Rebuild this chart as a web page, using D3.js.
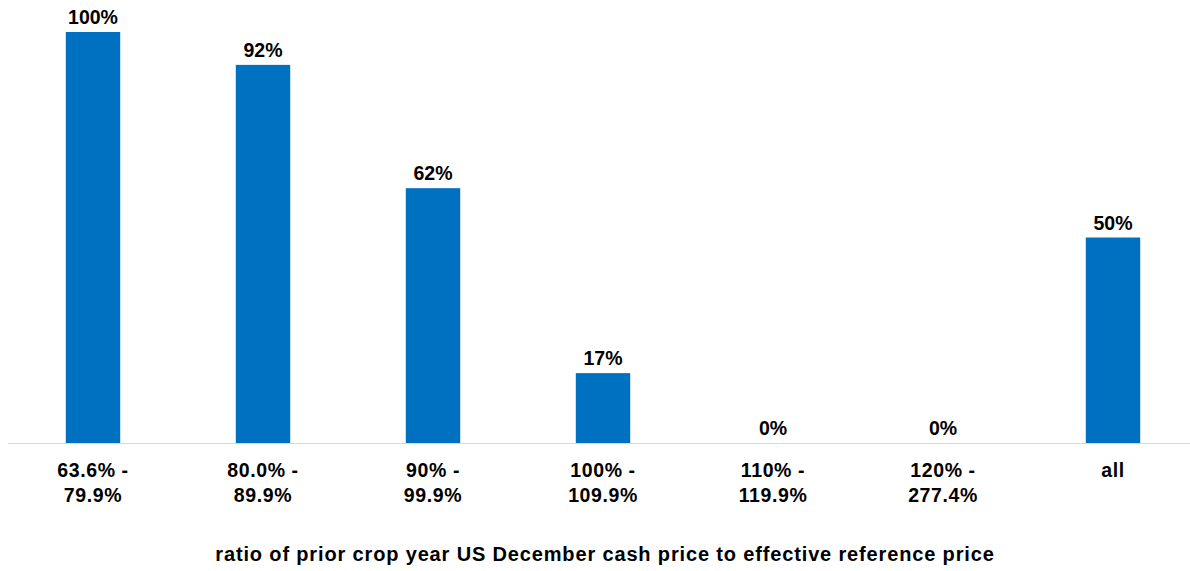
<!DOCTYPE html>
<html><head><meta charset="utf-8">
<script src="https://cdn.jsdelivr.net/npm/d3@7/dist/d3.min.js"></script>
<style>body{margin:0;background:#fff}svg{display:block}text{font-family:"Liberation Sans",Arial,sans-serif;font-weight:bold;fill:#000}</style>
</head><body><svg id="c" width="1190" height="571"></svg>
<script>
const categories = ["63.6% -|79.9%", "80.0% -|89.9%", "90% -|99.9%", "100% -|109.9%", "110% -|119.9%", "120% -|277.4%", "all"];
const values = [100, 92, 62, 17, 0, 0, 50];
const valueLabels = ["100%", "92%", "62%", "17%", "0%", "0%", "50%"];
const axisTitle = "ratio of prior crop year US December cash price to effective reference price";

const svg = d3.select("#c");
const baseY = 443, topY = 32;
const x = d3.scaleBand().domain(categories).range([8, 1198]).paddingInner(0.68).paddingOuter(0.34);
const y = d3.scaleLinear().domain([0, 100]).range([baseY, topY]);

svg.append("line").attr("x1", 8).attr("x2", 1190).attr("y1", baseY + 0.5).attr("y2", baseY + 0.5)
  .attr("stroke", "#d9d9d9").attr("stroke-width", 1.2);

svg.selectAll("rect.bar").data(values).join("rect").attr("class", "bar")
  .attr("x", (d, i) => x(categories[i]))
  .attr("width", x.bandwidth())
  .attr("y", d => y(d))
  .attr("height", d => baseY - y(d))
  .attr("fill", "#0070C0");

svg.selectAll("text.val").data(values).join("text").attr("class", "val")
  .attr("x", (d, i) => x(categories[i]) + x.bandwidth() / 2)
  .attr("y", d => y(d) - 8)
  .attr("text-anchor", "middle").attr("font-size", 19.5)
  .text((d, i) => valueLabels[i]);

const ticks = svg.selectAll("g.tick").data(categories).join("g").attr("class", "tick")
  .attr("transform", d => `translate(${x(d) + x.bandwidth() / 2},0)`);
ticks.each(function (d) {
  const lines = d.split("|");
  const g = d3.select(this);
  lines.forEach((l, j) => {
    g.append("text").attr("x", 0).attr("y", 477 + j * 24.5)
      .attr("text-anchor", "middle").attr("font-size", 19.5).attr("letter-spacing", 0.6).text(l);
  });
});

svg.append("text").attr("x", 605).attr("y", 561).attr("text-anchor", "middle")
  .attr("font-size", 20).attr("letter-spacing", 0.85).text(axisTitle);
</script></body></html>
